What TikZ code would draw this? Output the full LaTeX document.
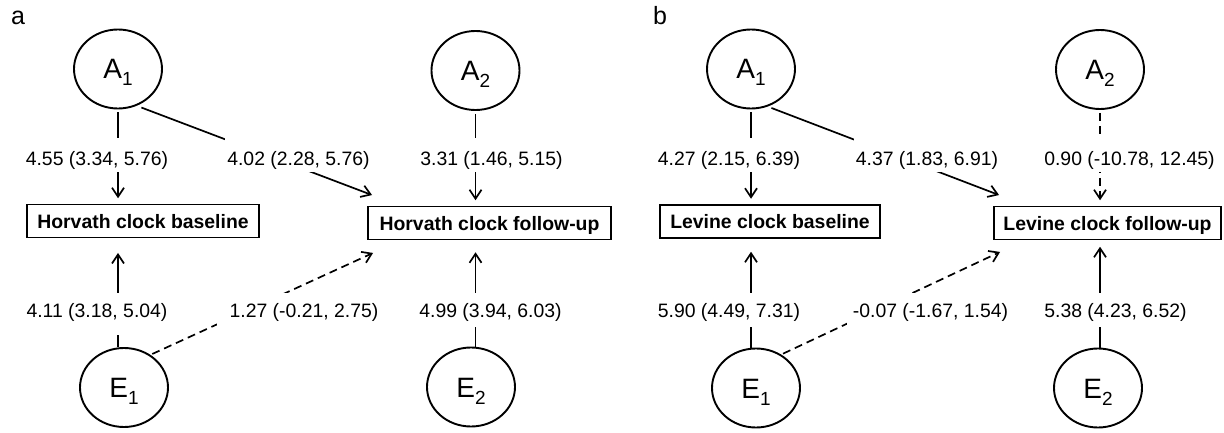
\documentclass[tikz,border=0pt]{standalone}
\usepackage{fontspec}
\setmainfont{Liberation Sans}
\usetikzlibrary{arrows.meta,shapes.geometric}

% latent variable label with a lowered index
\newcommand{\latentlabel}[2]{#1\smash{\raisebox{-7pt}{\fontsize{19}{20}\selectfont #2}}}

\tikzset{
  latent/.style={ellipse, draw, line width=1.9pt, minimum width=88pt, minimum height=79pt,
    inner sep=0pt, text height=20pt, text depth=0pt, font=\fontsize{28}{30}\selectfont},
  obs/.style={rectangle, draw, line width=1.5pt, minimum height=33pt, inner sep=0pt,
    text height=14pt, text depth=0pt, font=\bfseries\fontsize{19.4}{23}\selectfont},
  coef/.style={fill=white, anchor=base, inner xsep=2pt, inner ysep=2pt,
    font=\fontsize{19.4}{23}\selectfont},
  coefup/.style={coef, text height=25pt, text depth=5pt},
  coeflow/.style={coef, text height=22pt, text depth=8pt},
  conn/.style={line width=1.7pt, -{Straight Barb[length=9pt,width=12pt]}},
  link/.style={conn, dash pattern=on 8pt off 5pt},
  panel/.style={anchor=base west, inner sep=0pt, font=\fontsize{25}{28}\selectfont},
}

\begin{document}
\begin{tikzpicture}[x=1pt, y=-1pt]
\useasboundingbox (0,0) rectangle (1224,433);

% ---------------- panel a: Horvath clock ----------------
\node[panel] (pa) at (11,25) {a};
\node[latent] (A1a) at (118,69) {\latentlabel{A}{1}};
\node[latent] (A2a) at (475.5,70.5) {\latentlabel{A}{2}};
\node[latent] (E1a) at (124,387.5) {\latentlabel{E}{1}};
\node[latent] (E2a) at (471,387) {\latentlabel{E}{2}};
\node[obs, minimum width=232pt] (HB) at (143,221) {Horvath clock baseline};
\node[obs, minimum width=243pt] (FU) at (489.5,223) {Horvath clock follow-up};

\draw[conn, shorten <=3pt, shorten >=5.5pt] (A1a.south) -- (A1a.south |- HB.north);
\draw[conn, shorten <=5pt] (A1a.-63) -- ([xshift=4.8pt,yshift=10.7pt]FU.north west);
\draw[conn, shorten <=3pt, shorten >=5.5pt] (A2a.south) -- (A2a.south |- FU.north);
\draw[conn, shorten >=14.7pt] (A1a.south |- E1a.north) -- (A1a.south |- HB.south);
\draw[link, shorten <=2pt] (E1a.51) -- ([xshift=5.8pt,yshift=-12.7pt]FU.south west);
\draw[conn, shorten >=12pt] (A2a.south |- E2a.north) -- (A2a.south |- FU.south);

\node[coefup] (ca1) at (97,165) {4.55 (3.34, 5.76)};
\node[coefup] (ca2) at (298.5,165) {4.02 (2.28, 5.76)};
\node[coefup] (ca3) at (491.5,165) {3.31 (1.46, 5.15)};
\node[coeflow, text depth=16pt] (ca4) at (97,317) {4.11 (3.18, 5.04)};
\node[coeflow, inner xsep=13pt] (ca5) at (304,317) {1.27 (-0.21, 2.75)};
\node[coeflow] (ca6) at (490.5,317) {4.99 (3.94, 6.03)};

% ---------------- panel b: Levine clock ----------------
\node[panel] (pb) at (653,25) {b};
\node[latent] (A1b) at (751,69) {\latentlabel{A}{1}};
\node[latent] (A2b) at (1100,69.5) {\latentlabel{A}{2}};
\node[latent] (E1b) at (756,388) {\latentlabel{E}{1}};
\node[latent] (E2b) at (1098,388) {\latentlabel{E}{2}};
\node[obs, minimum width=220pt] (LB) at (770,221.5) {Levine clock baseline};
\node[obs, minimum width=227pt] (LF) at (1107.5,223) {Levine clock follow-up};

\draw[conn, shorten <=3pt, shorten >=5.5pt] (A1b.south) -- (A1b.south |- LB.north);
\draw[conn, shorten <=4pt] (A1b.-66) -- ([xshift=5.8pt,yshift=10.7pt]LF.north west);
\draw[link, shorten <=3pt, shorten >=5.5pt] (A2b.south) -- (A2b.south |- LF.north);
\draw[conn, shorten >=13pt] (A1b.south |- E1b.north) -- (A1b.south |- LB.south);
\draw[link, shorten <=2pt] (E1b.53) -- ([xshift=6.8pt,yshift=-11.7pt]LF.south west);
\draw[conn, shorten >=6.5pt] (A2b.south |- E2b.north) -- (A2b.south |- LF.south);

\node[coefup] (cb1) at (729,165) {4.27 (2.15, 6.39)};
\node[coefup] (cb2) at (927,165) {4.37 (1.83, 6.91)};
\node[coefup] (cb3) at (1129.5,165) {0.90 (-10.78, 12.45)};
\node[coeflow] (cb4) at (729,317) {5.90 (4.49, 7.31)};
\node[coeflow, inner xsep=6pt] (cb5) at (930.5,317) {-0.07 (-1.67, 1.54)};
\node[coeflow] (cb6) at (1115.5,317) {5.38 (4.23, 6.52)};
\end{tikzpicture}
\end{document}
